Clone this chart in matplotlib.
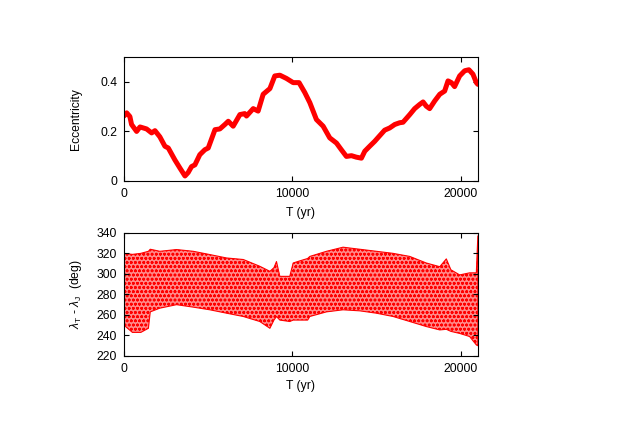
import matplotlib
matplotlib.use('Agg')
import matplotlib.pyplot as plt

plt.rcParams['font.family'] = ['Liberation Sans', 'DejaVu Sans']
plt.rcParams['mathtext.fontset'] = 'custom'
plt.rcParams['mathtext.rm'] = 'Liberation Sans'
plt.rcParams['mathtext.it'] = 'Liberation Sans:italic'
plt.rcParams['hatch.linewidth'] = 0.8

# Excentricidade (painel de cima)
t_ecc = [0, 160, 350, 450, 750, 950, 1340, 1640, 1840, 2130, 2430, 2630, 3020, 3320,
         3620, 3810, 4010, 4210, 4500, 4800, 5000, 5400, 5690, 5990, 6190, 6480, 6880,
         7170, 7270, 7670, 7960, 8260, 8660, 8950, 9250, 9640, 10040, 10390, 10730,
         11030, 11420, 11820, 12210, 12610, 12900, 13200, 13500, 13790, 14090, 14290,
         14580, 14880, 15180, 15470, 15770, 16070, 16360, 16560, 16960, 17250, 17550,
         17750, 17940, 18140, 18440, 18740, 19030, 19230, 19430, 19620, 19920, 20220,
         20470, 20710, 20910, 21000]
ecc = [0.262, 0.275, 0.26, 0.228, 0.20, 0.218, 0.21, 0.194, 0.203, 0.178, 0.14, 0.133,
       0.085, 0.052, 0.02, 0.034, 0.058, 0.065, 0.106, 0.126, 0.133, 0.207, 0.21, 0.228,
       0.241, 0.221, 0.268, 0.272, 0.262, 0.292, 0.282, 0.35, 0.373, 0.424, 0.427, 0.414,
       0.397, 0.397, 0.357, 0.316, 0.248, 0.221, 0.174, 0.153, 0.126, 0.099, 0.102, 0.096,
       0.092, 0.12, 0.14, 0.16, 0.183, 0.205, 0.214, 0.228, 0.235, 0.237, 0.268, 0.292,
       0.309, 0.319, 0.302, 0.292, 0.323, 0.35, 0.363, 0.404, 0.397, 0.381, 0.424, 0.445,
       0.449, 0.431, 0.397, 0.39]

# Ângulo ressonante (painel de baixo): envelope superior e inferior
t_lam = [0, 500, 1000, 1450, 1560, 2130, 3120, 4110, 5100, 6090, 7080, 8060, 8660,
         8900, 9050, 9250, 9840, 10040, 10500, 10900, 11030, 12020, 13000, 13990, 14980,
         15970, 16960, 17940, 18740, 19130, 19400, 19920, 20510, 20910, 21000]
lam_sup = [320, 319, 320, 322, 324, 322, 323.7, 322, 318.8, 315.5, 314, 307.4, 302.5,
           306, 312, 297.6, 297.6, 310.6, 313, 315, 317, 322, 326, 324, 322, 320, 317,
           310.6, 307, 314.6, 304, 299, 301, 301, 337]
lam_inf = [250, 243, 243, 247, 263, 266.6, 270, 267.6, 265, 261.7, 258.5, 253.6, 247,
           255, 258.5, 255, 253.6, 255, 255, 255, 258.5, 263, 265, 264, 261.7, 258.5,
           253.6, 248.7, 245.4, 246, 244, 242, 239, 230.8, 230]

fs = 8.7

fig = plt.figure(figsize=(6.23, 4.36), dpi=100)
ax1 = fig.add_axes([0.199, 0.585, 0.568, 0.284])
ax2 = fig.add_axes([0.199, 0.1835, 0.568, 0.2825])

ax1.plot(t_ecc, ecc, color='red', lw=3.6, solid_capstyle='round', solid_joinstyle='round')
ax1.set_xlim(0, 21000)
ax1.set_ylim(0, 0.5)
ax1.set_yticks([0, 0.2, 0.4])
ax1.set_yticklabels(['0', '0.2', '0.4'])
ax1.set_xticks([0, 10000, 20000])
ax1.set_ylabel('Eccentricity', fontsize=fs, labelpad=13)
ax1.set_xlabel('T (yr)', fontsize=fs, labelpad=5)

ax2.fill_between(t_lam, lam_inf, lam_sup, facecolor='#ff8a8a', edgecolor='red',
                 hatch='oooo', linewidth=0.8)
ax2.set_xlim(0, 21000)
ax2.set_ylim(220, 340)
ax2.set_yticks(range(220, 341, 20))
ax2.set_xticks([0, 10000, 20000])
ax2.set_ylabel(r'$\lambda_{\rm T}$ - $\lambda_{\rm J}$  (deg)', fontsize=fs, labelpad=9)
ax2.set_xlabel('T (yr)', fontsize=fs, labelpad=4)

for ax in (ax1, ax2):
    ax.tick_params(direction='in', top=True, right=True, labelsize=fs, length=3.6,
                   width=0.8, pad=5)
    for s in ax.spines.values():
        s.set_linewidth(0.8)

fig.savefig('out.png', dpi=100)
